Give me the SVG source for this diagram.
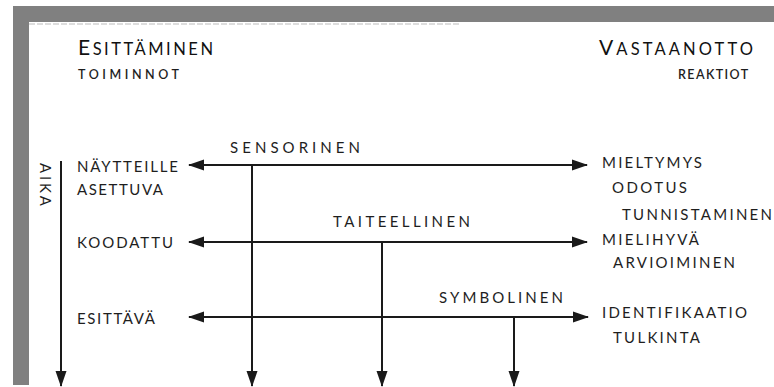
<svg xmlns="http://www.w3.org/2000/svg" width="774" height="387" viewBox="0 0 774 387">
<style>
.t{font-family:"Lato","Open Sans","DejaVu Sans",sans-serif;fill:#1e1e1e;font-size:15px}
.s{font-family:"Lato","Open Sans","DejaVu Sans",sans-serif;fill:#1e1e1e;font-size:12.5px;font-weight:600}
.h{font-family:"Lato","Open Sans","DejaVu Sans",sans-serif;fill:#111;font-size:16.5px}
.ln{stroke:#1a1a1a;stroke-width:2;fill:none}
</style>
<defs>
<marker id="ah" markerUnits="userSpaceOnUse" markerWidth="16" markerHeight="12" refX="15" refY="6" orient="auto-start-reverse">
<path d="M0,0.5 L16,6 L0,11.5 Z" fill="#1a1a1a"/>
</marker>
</defs>
<rect x="0" y="0" width="774" height="387" fill="#fff"/>
<rect x="13" y="6" width="761" height="16" fill="#808080"/>
<rect x="13" y="6" width="16" height="379" fill="#808080"/>
<line x1="29" y1="24" x2="460" y2="24" stroke="#bbb" stroke-width="1" stroke-dasharray="6 2"/>
<g id="head-left">
<text class="h" x="78" y="55" textLength="135" lengthAdjust="spacing"><tspan font-size="21">E</tspan>SITTÄMINEN</text>
<text class="s" x="78" y="79" textLength="101" lengthAdjust="spacing">TOIMINNOT</text>
</g>
<g id="head-right">
<text class="h" x="599" y="55" textLength="154" lengthAdjust="spacing"><tspan font-size="21">V</tspan>ASTAANOTTO</text>
<text class="s" x="678" y="79" font-size="12" letter-spacing="1.4">REAKTIOT</text>
</g>
<g id="aika">
<text class="t" transform="translate(40,163) rotate(90)" font-size="13.5" textLength="43" lengthAdjust="spacing">AIKA</text>
</g>
<g id="left-labels">
<text class="t" x="77" y="172" textLength="101" lengthAdjust="spacing">NÄYTTEILLE</text>
<text class="t" x="77" y="195" textLength="86" lengthAdjust="spacing">ASETTUVA</text>
<text class="t" x="77" y="248" textLength="96" lengthAdjust="spacing">KOODATTU</text>
<text class="t" x="77" y="324" textLength="78" lengthAdjust="spacing">ESITTÄVÄ</text>
</g>
<g id="mid-labels">
<text class="t" x="230" y="153" textLength="130" lengthAdjust="spacing">SENSORINEN</text>
<text class="t" x="333" y="227" textLength="137" lengthAdjust="spacing">TAITEELLINEN</text>
<text class="t" x="439" y="303" textLength="124" lengthAdjust="spacing">SYMBOLINEN</text>
</g>
<g id="right-labels">
<text class="t" x="602" y="168" textLength="100" lengthAdjust="spacing">MIELTYMYS</text>
<text class="t" x="612" y="193" textLength="75" lengthAdjust="spacing">ODOTUS</text>
<text class="t" x="622" y="220" textLength="150" lengthAdjust="spacing">TUNNISTAMINEN</text>
<text class="t" x="602" y="245" textLength="97" lengthAdjust="spacing">MIELIHYVÄ</text>
<text class="t" x="613" y="268" textLength="122" lengthAdjust="spacing">ARVIOIMINEN</text>
<text class="t" x="602" y="318" textLength="145" lengthAdjust="spacing">IDENTIFIKAATIO</text>
<text class="t" x="613" y="343" textLength="87" lengthAdjust="spacing">TULKINTA</text>
</g>
<g id="connectors">
<line class="ln" x1="61" y1="161" x2="61" y2="386" marker-end="url(#ah)"/>
<line class="ln" x1="189" y1="165" x2="587" y2="165" marker-start="url(#ah)" marker-end="url(#ah)"/>
<line class="ln" x1="189" y1="242" x2="587" y2="242" marker-start="url(#ah)" marker-end="url(#ah)"/>
<line class="ln" x1="189" y1="317" x2="588" y2="317" marker-start="url(#ah)" marker-end="url(#ah)"/>
<line class="ln" x1="252" y1="165" x2="252" y2="386" marker-end="url(#ah)"/>
<line class="ln" x1="382" y1="242" x2="382" y2="386" marker-end="url(#ah)"/>
<line class="ln" x1="514" y1="317" x2="514" y2="386" marker-end="url(#ah)"/>
</g>
</svg>
